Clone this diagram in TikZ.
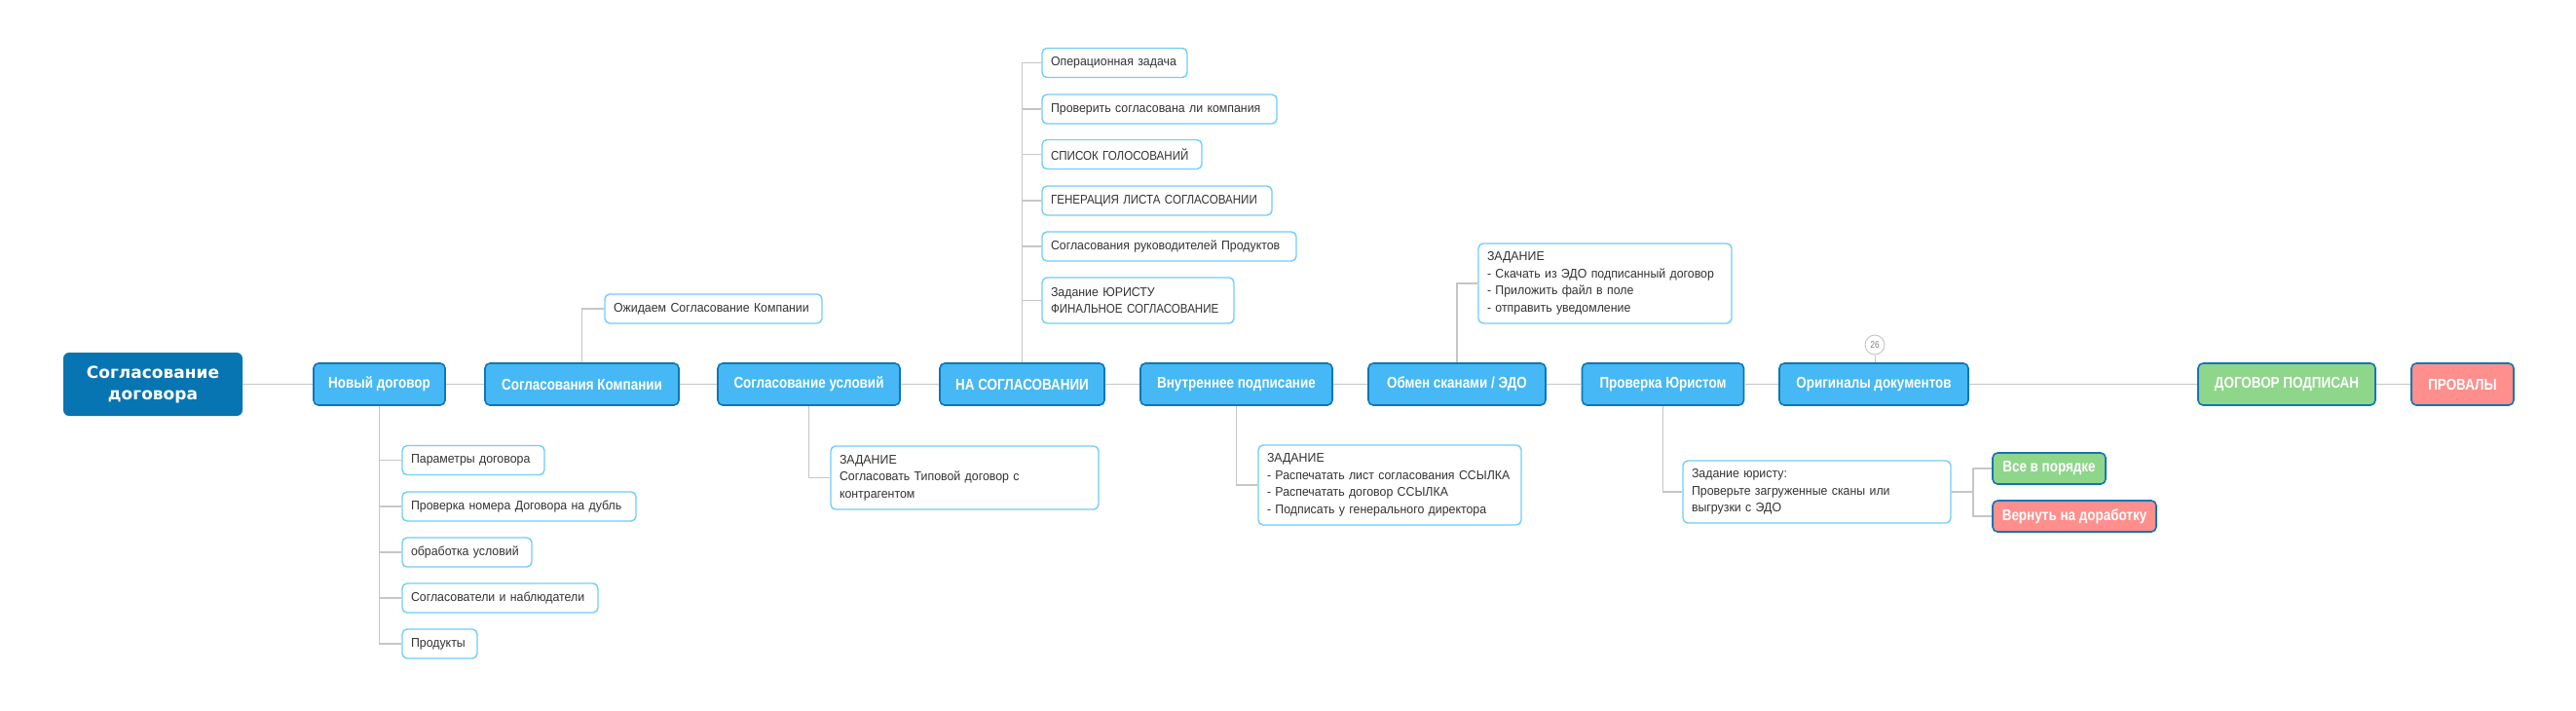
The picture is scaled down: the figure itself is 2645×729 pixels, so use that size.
\documentclass[tikz,border=0pt]{standalone}
\usepackage{fontspec}
\setmainfont{Liberation Sans}
\newfontfamily\cond[FakeStretch=0.84]{Liberation Sans}
\newfontfamily\condc[FakeStretch=0.95]{Liberation Sans}
\newfontfamily\capsf[FakeStretch=0.89]{Liberation Sans}
\newfontfamily\rootfont{DejaVu Sans}
\definecolor{mainfill}{HTML}{45B8F5}
\definecolor{mainborder}{HTML}{1176B4}
\definecolor{rootfill}{HTML}{0775B1}
\definecolor{childborder}{HTML}{70CDFB}
\definecolor{childtext}{HTML}{333333}
\definecolor{okfill}{HTML}{8ED68A}
\definecolor{badfill}{HTML}{FF8F8C}
\definecolor{conncol}{HTML}{C6C6C6}
\begin{document}
\begin{tikzpicture}[x=1pt,y=-1pt,
  mainbox/.style={draw=mainborder, fill=mainfill, line width=1.6pt, rounded corners=5pt,
    text=white, font=\cond\bfseries\fontsize{16}{19}\selectfont, minimum height=43pt, inner sep=0pt},
  rootbox/.style={fill=rootfill, rounded corners=6pt, text=white, align=center,
    font=\rootfont\bfseries\fontsize{17}{22}\selectfont, minimum width=184pt, minimum height=65pt, inner sep=0pt},
  childbox/.style={draw=childborder, fill=white, line width=1.4pt, rounded corners=5pt,
    text=childtext, font=\condc\fontsize{13}{17.5}\selectfont, align=left, inner xsep=9pt, inner ysep=0pt, minimum height=30pt},
  okbox/.style={mainbox, fill=okfill, minimum height=32pt},
  badbox/.style={mainbox, fill=badfill, minimum height=32pt},
  conn/.style={draw=conncol, line width=1.6pt},
  badge/.style={circle, draw=conncol, line width=1pt, text=gray, font=\cond\fontsize{10}{12}\selectfont, minimum size=20pt, inner sep=0pt}
]
\useasboundingbox (0,0) rectangle (2645,729);

% main row
\node[rootbox] (root) at (157,394.5) {Согласование\\договора};
\node[mainbox, minimum width=135pt] (nd) at (389.5,394.5) {Новый договор};
\node[mainbox, minimum width=199pt] (sk) at (597.5,394.5) {Согласования Компании};
\node[mainbox, minimum width=187pt] (su) at (830.5,394.5) {Согласование условий};
\node[mainbox, minimum width=169pt] (ns) at (1049.5,394.5) {НА СОГЛАСОВАНИИ};
\node[mainbox, minimum width=197pt] (vp) at (1269.5,394.5) {Внутреннее подписание};
\node[mainbox, minimum width=182pt] (ob) at (1496,394.5) {Обмен сканами / ЭДО};
\node[mainbox, minimum width=166pt] (pu) at (1707.5,394.5) {Проверка Юристом};
\node[mainbox, minimum width=194pt] (or) at (1924,394.5) {Оригиналы документов};
\node[okbox, minimum width=182pt, minimum height=43pt] (dp) at (2348,394.5) {ДОГОВОР ПОДПИСАН};
\node[badbox, minimum width=105pt, minimum height=43pt] (pr) at (2528.5,394.5) {ПРОВАЛЫ};

\node[badge] (b26) at (1925,354) {26};

% children of Новый договор
\node[childbox, text width=128pt] (nd1) at (486,472.5) {Параметры договора};
\node[childbox, text width=222pt] (nd2) at (533,520) {Проверка номера Договора на дубль};
\node[childbox, text width=115pt] (nd3) at (479.5,567) {обработка условий};
\node[childbox, text width=183pt] (nd4) at (513.5,614) {Согласователи и наблюдатели};
\node[childbox, text width=59pt] (nd5) at (451.5,661) {Продукты};

% child of Согласования Компании
\node[childbox, text width=205pt] (sk1) at (732.5,317) {Ожидаем Согласование Компании};

% children of НА СОГЛАСОВАНИИ
\node[childbox, text width=131pt] (ns1) at (1144.5,64.5) {Операционная задача};
\node[childbox, text width=223pt] (ns2) at (1190.5,112) {Проверить согласована ли компания};
\node[childbox, text width=146pt] (ns3) at (1152,158.5) {\mbox{\capsf СПИСОК ГОЛОСОВАНИЙ}};
\node[childbox, text width=218pt] (ns4) at (1188,206) {\mbox{\capsf ГЕНЕРАЦИЯ ЛИСТА СОГЛАСОВАНИИ}};
\node[childbox, text width=243pt] (ns5) at (1200.5,253) {Согласования руководителей Продуктов};
\node[childbox, text width=179pt, minimum height=47pt] (ns6) at (1168.5,308.5) {Задание ЮРИСТУ\\\mbox{\capsf ФИНАЛЬНОЕ СОГЛАСОВАНИЕ}};

% child of Согласование условий
\node[childbox, text width=257pt, minimum height=65pt] (su1) at (990.5,490.5) {ЗАДАНИЕ\\Согласовать Типовой договор с\\контрагентом};

% child of Внутреннее подписание
\node[childbox, text width=252pt, minimum height=82pt] (vp1) at (1427,498) {ЗАДАНИЕ\\- Распечатать лист согласования ССЫЛКА\\- Распечатать договор ССЫЛКА\\- Подписать у генерального директора};

% child of Обмен сканами
\node[childbox, text width=242pt, minimum height=82pt] (ob1) at (1648,291) {ЗАДАНИЕ\\- Скачать из ЭДО подписанный договор\\- Приложить файл в поле\\- отправить уведомление};

% child of Проверка Юристом
\node[childbox, text width=257pt, minimum height=64pt] (pu1) at (1865.5,505) {Задание юристу:\\Проверьте загруженные сканы или\\выгрузки с ЭДО};
\node[okbox, minimum width=116pt] (ok) at (2104,481) {Все в порядке};
\node[badbox, minimum width=168pt] (back) at (2130,530) {Вернуть на доработку};
\coordinate (jn) at (2026,505);

% main connectors
\draw[conn] (root.east) -- (nd.west);
\draw[conn] (nd.east) -- (sk.west);
\draw[conn] (sk.east) -- (su.west);
\draw[conn] (su.east) -- (ns.west);
\draw[conn] (ns.east) -- (vp.west);
\draw[conn] (vp.east) -- (ob.west);
\draw[conn] (ob.east) -- (pu.west);
\draw[conn] (pu.east) -- (or.west);
\draw[conn] (or.east) -- (dp.west);
\draw[conn] (dp.east) -- (pr.west);
\draw[conn, line width=1pt] (b26.south) -- (b26.south |- or.north);

% child connectors
\foreach \c in {nd1,nd2,nd3,nd4,nd5} \draw[conn] (nd.south) |- (\c.west);
\draw[conn] (sk.north) |- (sk1.west);
\foreach \c in {ns1,ns2,ns3,ns4,ns5,ns6} \draw[conn] (ns.north) |- (\c.west);
\draw[conn] (su.south) |- (su1.west);
\draw[conn] (vp.south) |- (vp1.west);
\draw[conn] (ob.north) |- (ob1.west);
\draw[conn] (pu.south) |- (pu1.west);
\draw[conn] (pu1.east) -- (jn);
\draw[conn] (jn) |- (ok.west);
\draw[conn] (jn) |- (back.west);
\end{tikzpicture}
\end{document}
